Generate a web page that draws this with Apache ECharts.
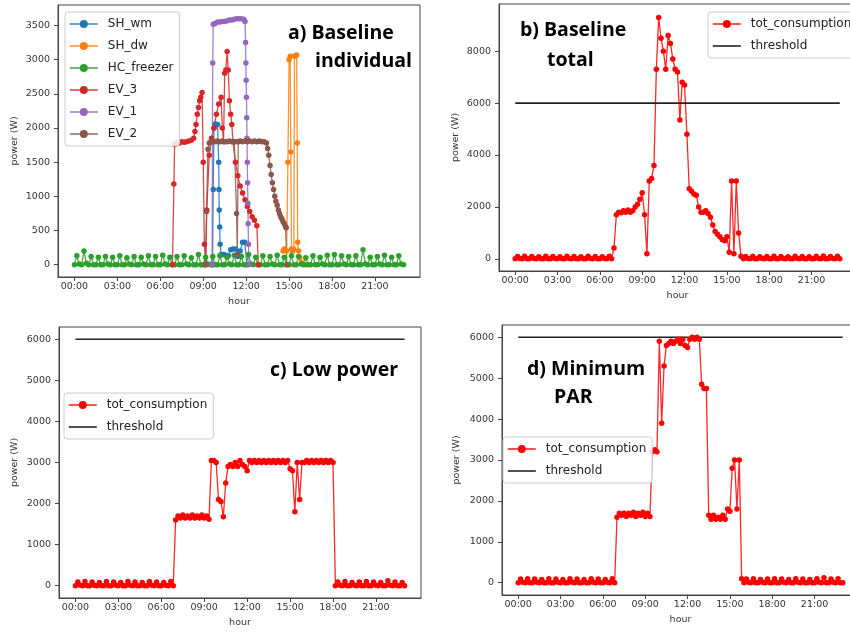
<!DOCTYPE html>
<html><head><meta charset="utf-8">
<script src="https://cdn.jsdelivr.net/npm/echarts@6/dist/echarts.min.js"></script>
<style>html,body{margin:0;padding:0;background:#fff}#c{width:850px;height:633px}</style>
</head><body><div id="c"></div>
<script>
// ---------- data ----------
const xTickHours = [0, 3, 6, 9, 12, 15, 18, 21];
const yTicksA = [0, 500, 1000, 1500, 2000, 2500, 3000, 3500];
const yTicksB = [0, 2000, 4000, 6000, 8000];
const yTicksCD = [0, 1000, 2000, 3000, 4000, 5000, 6000];
const sampleStepHours = 1 / 6;          // totals & freezer: one value every 10 minutes, 00:00 .. 23:00
const thresholdW = 6000;
const thresholdHours = [0, 23];

// panel a: individual devices, [hour, W]
const SH_wm = [[9.65,0],[9.7,1100],[9.75,2000],[9.83,2060],[9.92,2050],[10.0,2050],[10.04,1800],[10.08,1500],[10.1,1100],[10.12,800],[10.15,550],[10.18,300],[10.25,150],[10.42,150],[10.58,140],[10.75,130],[10.92,220],[11.08,230],[11.25,230],[11.42,120],[11.58,200],[11.75,330],[11.9,330],[12.05,0]];
const SH_dw = [[14.58,200],[14.67,230],[14.75,210],[14.83,200],[14.92,1500],[15.0,3000],[15.08,3050],[15.12,1650],[15.17,230],[15.25,200],[15.33,230],[15.38,3050],[15.45,3060],[15.53,3070],[15.57,1780],[15.6,330],[15.67,200],[15.75,100],[15.92,30],[16.17,0]];
const HC_freezer = [
  0,130,10, 0,200,20, 0,120,0, 0,110,0, 0,120,10, 0,110,0,
  0,130,0, 0,100,10, 0,120,0, 0,110,10, 0,130,0, 0,120,0,
  0,140,10, 0,110,0, 0,120,0, 0,130,10, 0,100,0, 0,150,0,
  0,110,10, 0,120,0, 0,130,0, 0,110,10, 0,140,0, 0,120,0,
  0,150,10, 0,110,0, 0,130,0, 0,120,10, 0,140,0, 0,110,0,
  0,130,0, 0,120,10, 0,100,0, 0,130,0, 0,110,10, 0,140,0,
  0,150,0, 0,130,10, 0,120,0, 0,130,0, 0,220,10, 0,110,0,
  0,120,10, 0,140,0, 0,110,0, 0,130,10, 0
];
const EV_3 = [[6.85,0],[6.95,1180],[7.0,1760],[7.17,1790],[7.33,1780],[7.5,1800],[7.67,1790],[7.83,1800],[8.0,1810],[8.17,1820],[8.33,1850],[8.42,1950],[8.5,2050],[8.58,2200],[8.67,2300],[8.75,2400],[8.83,2450],[8.92,2520],[9.0,1500],[9.08,300],[9.17,0],[9.25,800],[9.42,1600],[9.58,1850],[9.75,2000],[9.92,2200],[10.08,2350],[10.25,2450],[10.33,2000],[10.42,1800],[10.5,2800],[10.58,2850],[10.67,3120],[10.75,2850],[10.83,2400],[10.92,2200],[11.0,2050],[11.08,1800],[11.25,1500],[11.42,1300],[11.58,1150],[11.75,1050],[11.92,950],[12.08,850],[12.25,780],[12.42,700],[12.58,650],[12.75,570],[12.85,0]];
const EV_1 = [[9.62,0],[9.66,2950],[9.7,3520],[9.83,3530],[10.0,3550],[10.17,3550],[10.33,3560],[10.5,3560],[10.67,3570],[10.83,3580],[11.0,3580],[11.17,3590],[11.33,3600],[11.5,3600],[11.67,3600],[11.83,3590],[11.92,3560],[11.96,3250],[11.98,2950],[12.0,2700],[12.02,2450],[12.04,2150],[12.06,1850],[12.08,1500],[12.1,1200],[12.12,900],[12.14,600],[12.16,300],[12.2,0]];
const EV_2 = [[9.17,0],[9.23,780],[9.33,1690],[9.42,1780],[9.5,1790],[9.67,1800],[9.83,1800],[10.0,1810],[10.17,1800],[10.33,1810],[10.5,1800],[10.67,1800],[10.83,1810],[11.0,1800],[11.17,1800],[11.28,1800],[11.33,750],[11.38,150],[11.45,1800],[11.58,1810],[11.75,1800],[11.92,1810],[12.08,1800],[12.25,1810],[12.42,1800],[12.58,1810],[12.75,1800],[12.92,1810],[13.08,1800],[13.25,1800],[13.42,1780],[13.5,1700],[13.58,1600],[13.67,1450],[13.75,1320],[13.83,1200],[13.92,1100],[14.0,1000],[14.08,930],[14.17,870],[14.25,800],[14.33,750],[14.42,700],[14.5,670],[14.58,630],[14.67,600],[14.75,560],[14.8,540],[14.85,0]];

// panels b, c, d: total consumption, one value per 10 minutes
const totBaseline = [
  0,90,10, 0,100,0, 0,90,10, 0,80,0, 0,100,0, 0,90,10, 0,80,0, 0,100,10, 0,90,0, 0,80,0, 0,100,10, 0,90,0, 0,80,10, 0,100,0,
  420,1700,1800,1780,1850,1800,1880,1800,1850,2000,2100,2300,2550,1700,200,
  3000,3100,3600,7300,9300,8500,8000,7300,8600,8300,7700,7300,7200,5350,6800,6700,4800,
  2700,2600,2500,2450,2000,1800,1800,1850,1750,1600,1300,1050,950,850,750,700,850,250,3000,200,3000,1000,100,
  0,90,10, 0,100,0, 0,80,10, 0,90,0, 0,100,0, 0,90,10, 0,80,0, 0,100,10, 0,90,0, 0,80,0, 0,100,10, 0,110,0, 0,90,10, 0,100,0
];
const totLowPower = [
  0,90,10, 0,100,0, 0,90,10, 0,80,0, 0,100,0, 0,90,10, 0,80,0, 0,100,10, 0,90,0, 0,80,0, 0,100,10, 0,90,0, 0,80,10, 0,100,0,
  1600,1700,1650,1720,1650,1700,1650,1720,1650,1700,1650,1720,1650,1700,1620,
  3050,3050,3000,2100,2050,1680,2500,2900,2950,2900,3000,2900,3050,2950,2900,2800,3050,
  3000,3050,3000,3050,3000,3050,3000,3050,3000,3050,3000,3050,3000,3050,3000,3050,
  2850,2800,1800,3000,2100,3000,
  3000,3050,3000,3050,3000,3050,3000,3050,3000,3050,3000,3050,3000,
  0,90,10, 0,100,0, 0,80,10, 0,90,0, 0,100,0, 0,90,10, 0,80,0, 0,120,10, 0,90,0, 0,80,0
];
const totMinPAR = [
  0,90,10, 0,100,0, 0,90,10, 0,80,0, 0,100,0, 0,90,10, 0,80,0, 0,100,10, 0,90,0, 0,80,0, 0,100,10, 0,90,0, 0,80,10, 0,100,0,
  1600,1700,1650,1700,1620,1700,1650,1720,1620,1700,1650,1720,1620,1700,1620,
  3200,3250,3200,5900,3900,5300,5800,5850,5900,5850,5900,5950,5850,5950,5800,5750,5950,6000,5950,6000,5950,
  4850,4750,4750,1650,
  1550,1650,1550,1600,1550,1650,1550,
  1800,1750,2800,3000,1800,3000,100,
  0,90,10, 0,100,0, 0,80,10, 0,90,0, 0,100,0, 0,90,10, 0,80,0, 0,100,10, 0,90,0, 0,80,0, 0,100,10, 0,120,0, 0,90,10, 0,100,0, 0
];

// ---------- chart ----------
const FONT = 'DejaVu Sans';
const toPairs = arr => arr.map((v, i) => [i * sampleStepHours, v]);
const thresholdData = thresholdHours.map(h => [h, thresholdW]);
const hh = v => (v < 10 ? '0' : '') + v + ':00';

const grids = [
  {left: 58,  top: 5,   width: 362, height: 272},
  {left: 499, top: 4,   width: 357, height: 267},
  {left: 59,  top: 327, width: 362, height: 271},
  {left: 502, top: 325, width: 357, height: 270}
].map(g => Object.assign({show: true, borderColor: '#444', borderWidth: 1, backgroundColor: '#fff', containLabel: false, outerBoundsMode: 'none'}, g));

const xAxes = [0,1,2,3].map(k => ({
  type: 'value', gridIndex: k, min: -1.15, max: 24.15,
  splitLine: {show: false},
  axisLine: {show: true, onZero: false, lineStyle: {color: '#444'}},
  axisTick: {show: true, customValues: xTickHours, length: 4, lineStyle: {color: '#444'}},
  axisLabel: {customValues: xTickHours, formatter: hh, fontSize: 9.5, color: '#333', fontFamily: FONT, margin: 5},
  name: 'hour', nameLocation: 'middle', nameGap: 20,
  nameTextStyle: {fontSize: 9.5, color: '#333', fontFamily: FONT}
}));
const yRanges = [[-180, 3800], [-468, 9818], [-300, 6300], [-300, 6300]];
const yTicks = [yTicksA, yTicksB, yTicksCD, yTicksCD];
const yGaps = [38, 38, 39, 40];
const yAxes = [0,1,2,3].map(k => ({
  type: 'value', gridIndex: k, min: yRanges[k][0], max: yRanges[k][1],
  splitLine: {show: false},
  axisLine: {show: true, onZero: false, lineStyle: {color: '#444'}},
  axisTick: {show: true, customValues: yTicks[k], length: 4, lineStyle: {color: '#444'}},
  axisLabel: {customValues: yTicks[k], formatter: v => String(v), fontSize: 9.5, color: '#333', fontFamily: FONT, margin: 8},
  name: 'power (W)', nameLocation: 'middle', nameGap: yGaps[k], nameRotate: 90,
  nameTextStyle: {fontSize: 9.5, color: '#333', fontFamily: FONT}
}));

function lineSeries(name, data, color, k, opts) {
  return Object.assign({
    type: 'line', name, data, xAxisIndex: k, yAxisIndex: k,
    symbol: 'circle', symbolSize: 5.5, showSymbol: true,
    itemStyle: {color}, lineStyle: {color, width: 1.3, opacity: 0.85},
    animation: false, silent: true
  }, opts || {});
}
function threshold(k) {
  return {type: 'line', name: 'threshold', data: thresholdData, xAxisIndex: k, yAxisIndex: k,
    symbol: 'none', itemStyle: {color: '#222'}, lineStyle: {color: '#222', width: 1.6}, animation: false, silent: true};
}

const series = [
  lineSeries('SH_wm', SH_wm, '#1f77b4', 0),
  lineSeries('SH_dw', SH_dw, '#ff7f0e', 0),
  lineSeries('HC_freezer', toPairs(HC_freezer), '#2ca02c', 0),
  lineSeries('EV_3', EV_3, '#d62728', 0),
  lineSeries('EV_1', EV_1, '#9467bd', 0),
  lineSeries('EV_2', EV_2, '#8c564b', 0),
  lineSeries('tot_consumption', toPairs(totBaseline), '#ff0000', 1), threshold(1),
  lineSeries('tot_consumption', toPairs(totLowPower), '#ff0000', 2), threshold(2),
  lineSeries('tot_consumption', toPairs(totMinPAR), '#ff0000', 3), threshold(3)
];

const legendBase = {
  orient: 'vertical', itemWidth: 28, itemHeight: 10, itemGap: 10, selectedMode: false,
  padding: [6, 6, 6, 4], backgroundColor: 'rgba(255,255,255,0.85)', borderColor: '#ccc', borderWidth: 1, borderRadius: 3,
  textStyle: {fontSize: 12, color: '#222', fontFamily: FONT, padding: [0, 0, 0, 5]},
  lineStyle: {width: 1.6}
};
const totLegendData = [{name: 'tot_consumption'}, {name: 'threshold', icon: 'path://M0,0 H28 V1.6 H0 Z'}];
const legends = [
  Object.assign({}, legendBase, {left: 65, top: 12, data: ['SH_wm','SH_dw','HC_freezer','EV_3','EV_1','EV_2']}),
  Object.assign({}, legendBase, {left: 708, top: 12, data: totLegendData}),
  Object.assign({}, legendBase, {left: 64, top: 393, data: totLegendData}),
  Object.assign({}, legendBase, {left: 503, top: 437, data: totLegendData})
];

const TITLE_FONT = 'bold 19.5px "Open Sans"';
const titleLines = [
  ['a) Baseline', 288, 33], ['individual', 315, 61.5],
  ['b) Baseline', 520, 30.5], ['total', 547, 60],
  ['c) Low power', 270, 370],
  ['d) Minimum', 527, 369], ['PAR', 554, 397]
];
const graphic = titleLines.map(t => ({
  type: 'text', x: t[1], y: t[2], z: 100,
  style: {text: t[0], font: TITLE_FONT, fill: '#000', align: 'left', verticalAlign: 'middle'}
}));

const chart = echarts.init(document.getElementById('c'), null, {renderer: 'canvas'});
chart.setOption({
  backgroundColor: '#fff', animation: false,
  grid: grids, xAxis: xAxes, yAxis: yAxes, series, legend: legends, graphic
});
</script></body></html>
